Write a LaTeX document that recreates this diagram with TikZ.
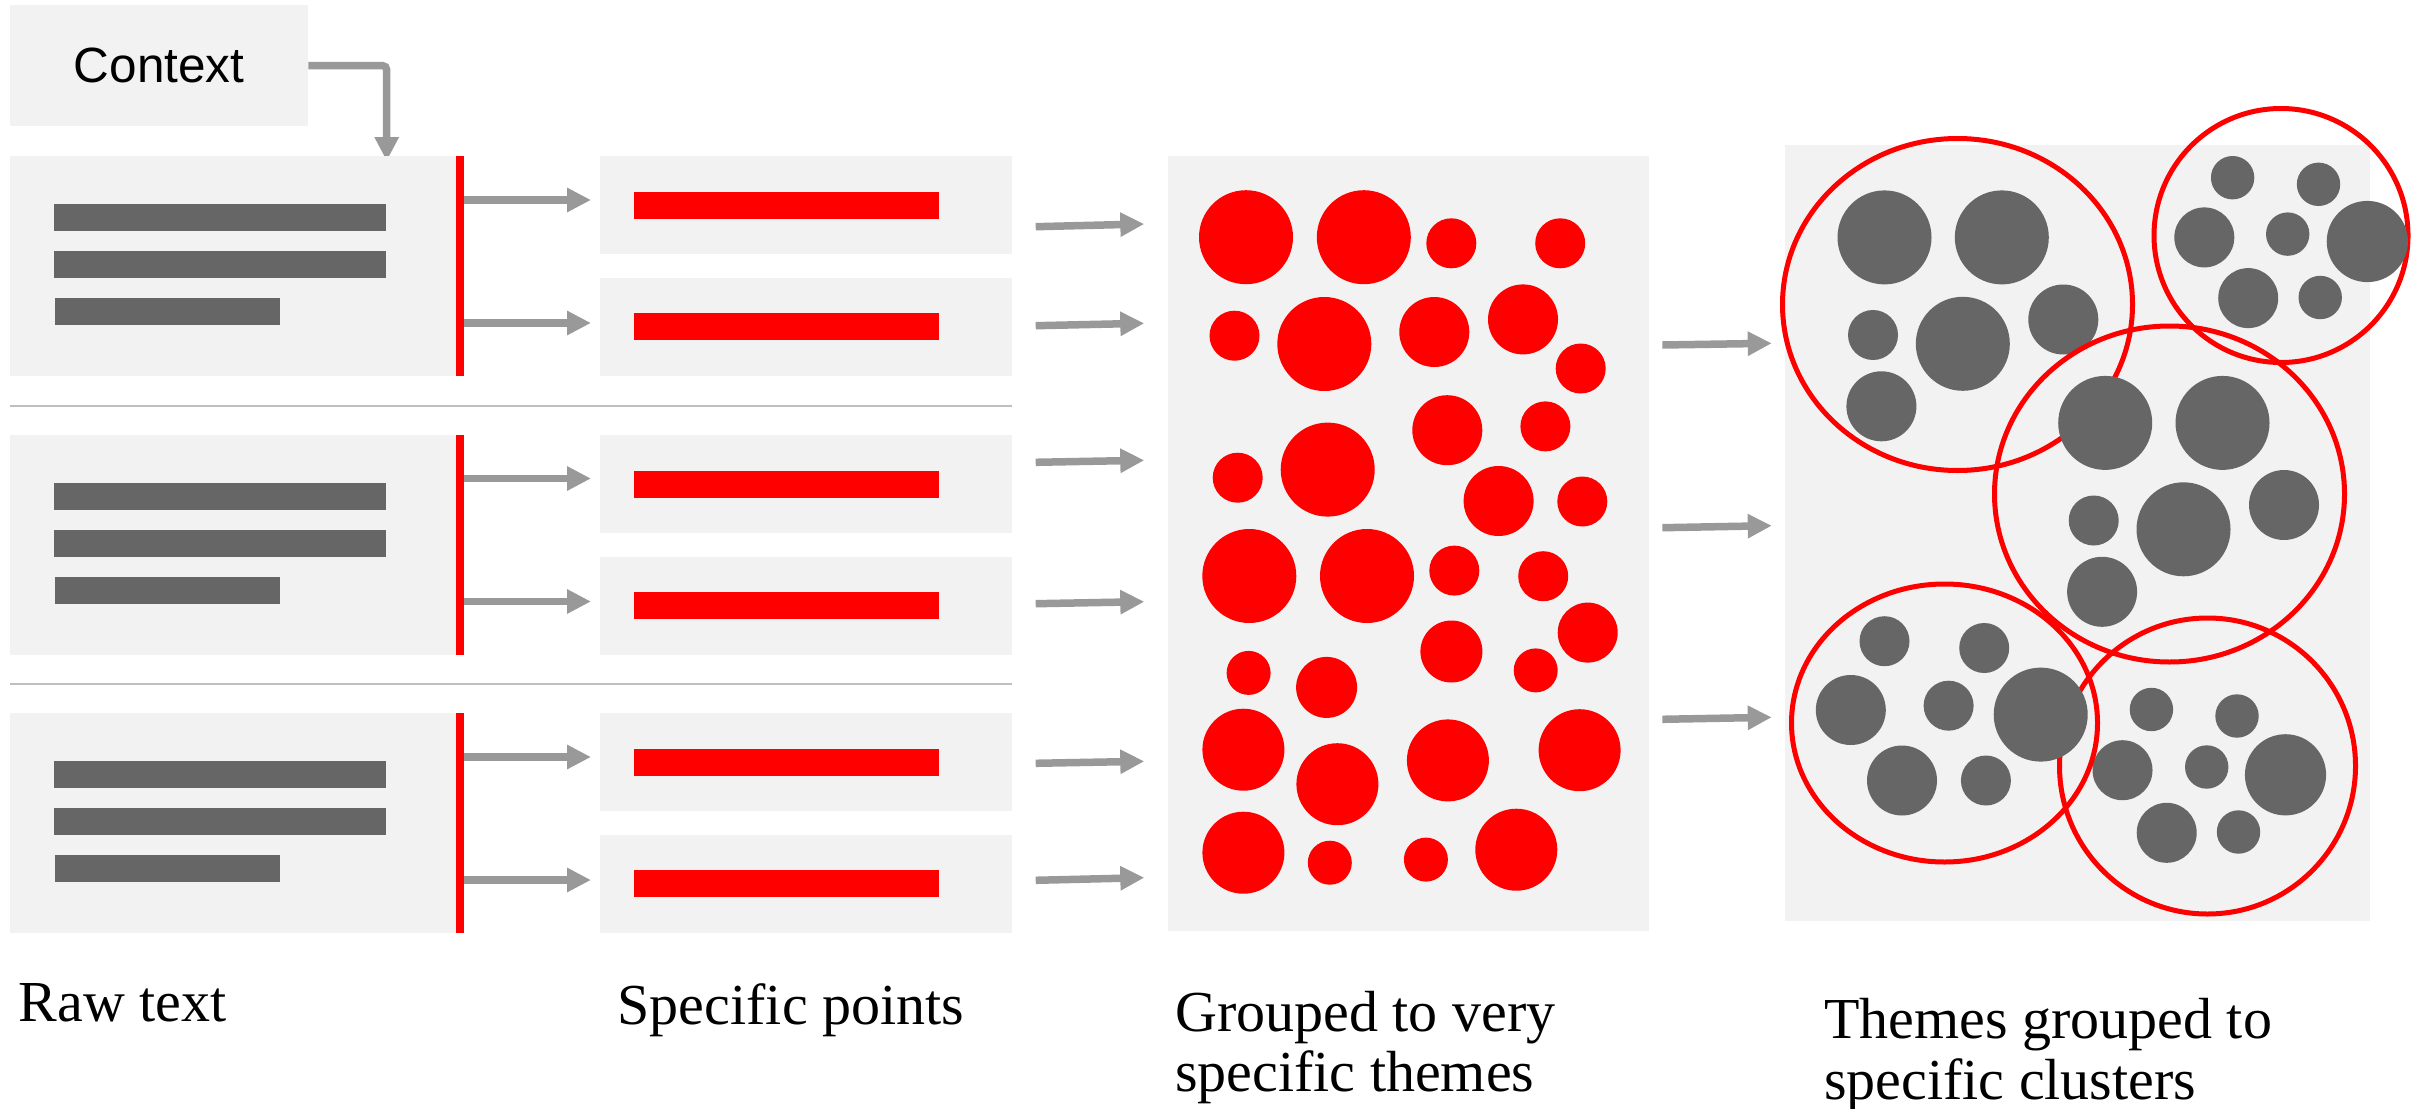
\documentclass[tikz,border=0pt]{standalone}
\usepackage{fontspec}
\setmainfont{Liberation Serif}
\newfontfamily\boxsans{Liberation Sans}
\usetikzlibrary{arrows.meta}

\definecolor{panelgray}{HTML}{F2F2F2}
\definecolor{bargray}{HTML}{666666}
\definecolor{arrowgray}{HTML}{999999}
\definecolor{rulegray}{HTML}{BFBFBF}
\definecolor{hotred}{HTML}{FF0000}

\begin{document}
\begin{tikzpicture}[x=1pt,y=-1pt,
  panel/.style={fill=panelgray,draw=none,inner sep=0pt,anchor=north west},
  flow/.style={draw=arrowgray,line width=7.5pt,-{Triangle[length=24pt,width=23pt]}},
  textbar/.style={fill=bargray},
  pointbar/.style={fill=hotred},
  redrule/.style={draw=hotred,line width=8pt},
  divider/.style={draw=rulegray,line width=2pt},
  theme/.style={fill=hotred},
  cluster/.style={draw=hotred,line width=5pt},
  subtheme/.style={fill=bargray},
  caption/.style={font=\fontsize{58}{60}\selectfont,inner sep=0pt,anchor=base west,align=left},
]
\useasboundingbox (0,0) rectangle (2430,1108);

% context box and its feed into the first text block
\node[panel,minimum width=298pt,minimum height=121pt,
      font=\boxsans\fontsize{49.5}{55}\selectfont] (ctx) at (10,5) {Context};
\coordinate (ctxdrop) at (386.7,161);
\draw[flow,rounded corners=4pt] (ctx.east) -| (ctxdrop);

% raw text blocks with their extracted points
\foreach \g/\T in {1/156,2/434.5,3/713}{
  \node[panel,minimum width=450pt,minimum height=220pt] (raw\g) at (10,\T) {};
  \fill[textbar] (54,\T+48) rectangle (386,\T+75);
  \fill[textbar] (54,\T+95) rectangle (386,\T+122);
  \fill[textbar] (55,\T+142) rectangle (280,\T+169);
  \draw[redrule] (raw\g.north east) -- (raw\g.south east);
  \node[panel,minimum width=412pt,minimum height=98pt] (pa\g) at (600,\T) {};
  \node[panel,minimum width=412pt,minimum height=98pt] (pb\g) at (600,\T+122) {};
  \fill[pointbar] (634,\T+36) rectangle (939,\T+63);
  \fill[pointbar] (634,\T+157) rectangle (939,\T+184);
  \coordinate (ra\g) at (464,\T+44);
  \coordinate (rb\g) at (464,\T+167);
  \draw[flow,shorten >=9pt] (ra\g) -- (pa\g.west |- ra\g);
  \draw[flow,shorten >=9pt] (rb\g) -- (pb\g.west |- rb\g);
}
\draw[divider] (10,405.5) -- (1012,405.5);
\draw[divider] (10,683.5) -- (1012,683.5);

% theme panel
\node[panel,minimum width=481.3pt,minimum height=775pt] (themes) at (1167.7,156) {};
\foreach \i/\ya/\yb in {1/226.7/224,2/325.7/323.3,3/462.3/460.3,4/603.7/601.7,5/763.3/761.3,6/880.3/877.7}{
  \coordinate (ms\i) at (1035.7,\ya);
  \coordinate (me\i) at (1144.3,\yb);
  \draw[flow] (ms\i) -- (me\i);
}
\foreach \x/\y/\r in {
  1246/237.2/47, 1363.8/237.2/47, 1451.3/243.3/25, 1560.2/243.3/25,
  1234.5/335.7/25, 1324.3/344/47, 1434.3/332/35, 1523/319.4/35, 1580.7/368.5/25,
  1447.3/430.2/35, 1545.4/426.4/25,
  1237.7/477.7/25, 1327.7/469.6/47, 1498.6/501/35, 1582.3/501.5/25,
  1249.3/576/47, 1367/576/47, 1454.3/570.6/25, 1543.2/576.2/25,
  1587.7/632.6/30, 1451.4/651.5/31, 1535.7/670.4/22, 1248.6/672.9/22, 1326.6/687.4/30.5,
  1243.4/749.7/41, 1337.4/784.2/41, 1447.9/760.4/41, 1579.6/750.2/41,
  1243.4/852.7/41, 1329.8/862.7/22, 1425.9/859.6/22, 1516.3/849.7/41}
  \fill[theme] (\x,\y) circle[radius=\r pt];

% cluster panel
\node[panel,minimum width=585pt,minimum height=776pt] (clusters) at (1785,145) {};
\foreach \i/\ya/\yb in {1/345/343.3,2/527.7/525.7,3/719.3/717.3}{
  \coordinate (cs\i) at (1662.3,\ya);
  \coordinate (ce\i) at (1771.7,\yb);
  \draw[flow] (cs\i) -- (ce\i);
}
% cluster A
\draw[cluster] (1957.5,304.5) ellipse[x radius=175pt,y radius=166pt];
\foreach \x/\y/\r in {1884.5/237.4/47, 2001.8/237.4/47, 1873/335/25, 1962.8/343.8/47, 2063.3/319.5/35, 1881.4/406.3/35}
  \fill[subtheme] (\x,\y) circle[radius=\r pt];
% cluster C
\draw[cluster] (2169.5,494) ellipse[x radius=175pt,y radius=168pt];
\foreach \x/\y/\r in {2105.2/422.9/47, 2222.5/422.9/47, 2093.7/520.5/25, 2183.5/529.3/47, 2284/505/35, 2102.1/591.8/35}
  \fill[subtheme] (\x,\y) circle[radius=\r pt];
% cluster E
\draw[cluster] (2207.5,766) ellipse[x radius=148pt,y radius=148pt];
\foreach \x/\y/\r in {2151.4/709.5/21.7, 2237/716/21.7, 2122.5/770.2/30, 2206.7/767/21.7, 2285.5/774.8/40.6, 2166.7/832.8/30, 2238.5/832/21.7}
  \fill[subtheme] (\x,\y) circle[radius=\r pt];
% cluster D
\draw[cluster] (1944.5,723) ellipse[x radius=153pt,y radius=139pt];
\foreach \x/\y/\r in {1884.5/641.2/25, 1984.2/648/25, 1850.8/710/35, 1948.6/705.7/25, 2040.7/714.6/47, 1902/780.5/35, 1985.9/780.5/25}
  \fill[subtheme] (\x,\y) circle[radius=\r pt];
% cluster B
\draw[cluster] (2281,235.5) ellipse[x radius=127pt,y radius=127pt];
\foreach \x/\y/\r in {2232.6/177.7/21.7, 2318.5/184.3/21.7, 2204.3/237.4/30, 2287.7/234.1/21.7, 2367.3/241.5/40.6, 2248.2/298.1/30, 2320.2/297.5/21.7}
  \fill[subtheme] (\x,\y) circle[radius=\r pt];

% stage captions (base anchor sits on the last line)
\node[caption] (cap1) at (18.5,1021) {Raw text};
\node[caption] (cap2) at (617.5,1024) {Specific points};
\node[caption] (cap3) at (1175,1091) {Grouped to very\\[0pt]specific themes};
\node[caption] (cap4) at (1824,1099) {Themes grouped to\\[1pt]specific clusters};
\end{tikzpicture}
\end{document}
